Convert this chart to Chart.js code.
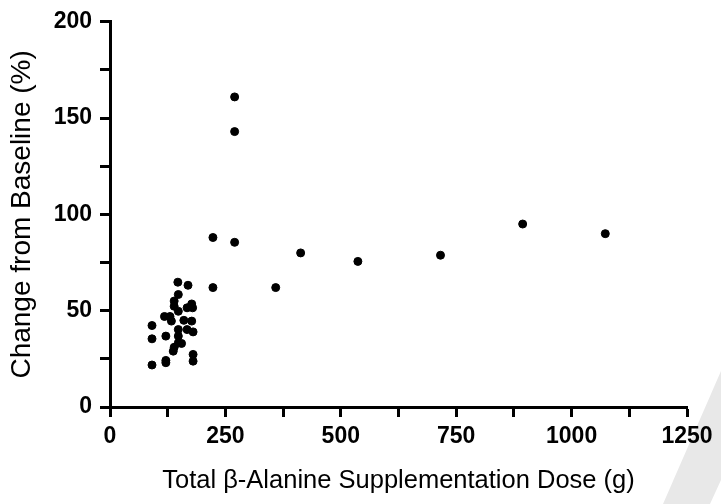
<!DOCTYPE html>
<html>
<head>
<meta charset="utf-8">
<script src="https://cdn.jsdelivr.net/npm/chart.js@4"></script>
<style>
  html, body { margin: 0; padding: 0; background: #fff; }
  #wrap { width: 721px; height: 504px; }
</style>
</head>
<body>
<div id="wrap"><canvas id="doseChart"></canvas></div>
<script>
// total dose (g) vs change from baseline (%)
const doseG = [
  270, 270, 223, 270, 413, 223, 359, 537, 716, 894, 1073,
  147, 169, 148, 139, 148, 177, 167, 179, 118, 133, 177, 91,
  148, 167, 180, 91, 121, 148, 148, 139, 137, 180, 180, 121, 121, 91,
  139, 155, 130, 160
];
const changePct = [
  161, 143, 88, 85.5, 80, 62, 62, 75.6, 78.8, 95, 90,
  64.8, 63.2, 58.4, 52.3, 49.7, 53.5, 51.5, 51.5, 47, 44.6, 44.6, 42.3,
  40.2, 40.2, 39, 35.4, 36.8, 36.8, 33.3, 31, 29, 27.3, 23.8, 24.2, 23, 21.8,
  55, 33, 47, 45
];
const xTicks = [0, 250, 500, 750, 1000, 1250];
const yTicks = [0, 50, 100, 150, 200];

const points = doseG.map((d, i) => ({ x: d, y: changePct[i] }));

// light grey corner band from the source image
const cornerBand = {
  id: 'cornerBand',
  beforeDraw(chart) {
    const ctx = chart.ctx;
    ctx.save();
    ctx.fillStyle = '#e8e8e8';
    ctx.beginPath();
    ctx.moveTo(663, 504);
    ctx.lineTo(721, 371);
    ctx.lineTo(721, 480);
    ctx.lineTo(710, 504);
    ctx.closePath();
    ctx.fill();
    ctx.restore();
  }
};

const tickFont = { family: 'Liberation Sans', size: 23, weight: 'bold' };

new Chart(document.getElementById('doseChart'), {
  type: 'scatter',
  data: {
    datasets: [{
      data: points,
      backgroundColor: '#000',
      borderColor: '#000',
      pointRadius: 4,
      pointHoverRadius: 4
    }]
  },
  options: {
    responsive: true,
    maintainAspectRatio: false,
    animation: false,
    layout: { padding: { top: 20, right: 34, left: 0, bottom: 0 } },
    plugins: { legend: { display: false }, tooltip: { enabled: false } },
    scales: {
      x: {
        type: 'linear',
        min: 0,
        max: 1250,
        afterFit(scale) { scale.height = 97; },
        border: { display: true, color: '#000', width: 3 },
        grid: { drawOnChartArea: false, color: '#000', tickColor: '#000', tickLength: 10, tickWidth: 3 },
        ticks: {
          stepSize: 125,
          padding: 6,
          color: '#000',
          font: tickFont,
          maxRotation: 0,
          autoSkip: false,
          callback: v => xTicks.includes(v) ? String(v) : ''
        },
        title: {
          display: true,
          text: 'Total β-Alanine Supplementation Dose (g)',
          color: '#000',
          font: { family: 'Liberation Sans', size: 25.5 },
          padding: { top: 0, bottom: 8 }
        }
      },
      y: {
        type: 'linear',
        min: 0,
        max: 200,
        afterFit(scale) { scale.width = 110; },
        border: { display: true, color: '#000', width: 3 },
        grid: { drawOnChartArea: false, color: '#000', tickColor: '#000', tickLength: 10, tickWidth: 3 },
        ticks: {
          stepSize: 25,
          padding: 8,
          color: '#000',
          font: tickFont,
          autoSkip: false,
          callback: v => yTicks.includes(v) ? String(v) : ''
        },
        title: {
          display: true,
          text: 'Change from Baseline (%)',
          color: '#000',
          font: { family: 'Liberation Sans', size: 28 },
          padding: { top: 5, bottom: 0 }
        }
      }
    }
  },
  plugins: [cornerBand]
});
</script>
</body>
</html>
